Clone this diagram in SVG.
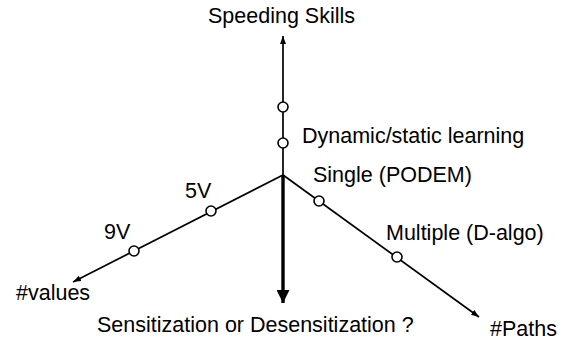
<svg xmlns="http://www.w3.org/2000/svg" width="574" height="341" viewBox="0 0 574 341">
  <style>
    .lbl { font-family: "Liberation Sans", Arial, sans-serif; font-size: 21.5px; fill: #000; }
    .axis { stroke: #000; stroke-width: 1.7; fill: none; }
    .axis-bold { stroke: #000; stroke-width: 3.4; fill: none; }
    .pt { fill: #fff; stroke: #000; stroke-width: 1.6; }
  </style>
  <defs>
    <marker id="tip" viewBox="0 0 8 6" refX="8" refY="3" markerWidth="8" markerHeight="6" markerUnits="userSpaceOnUse" orient="auto">
      <path d="M0,0 L8,3 L0,6 z" fill="#000"/>
    </marker>
    <marker id="tip-bold" viewBox="0 0 13 13" refX="13" refY="6.5" markerWidth="13" markerHeight="13" markerUnits="userSpaceOnUse" orient="auto">
      <path d="M0,0 L13,6.5 L0,13 z" fill="#000"/>
    </marker>
  </defs>

  <rect width="574" height="341" fill="#fff"/>

  <!-- axes radiating from the origin -->
  <g id="connectors">
    <line class="axis" x1="283" y1="175" x2="283" y2="36" marker-end="url(#tip)"/>
    <line class="axis" x1="283" y1="175" x2="73" y2="282" marker-end="url(#tip)"/>
    <line class="axis" x1="283" y1="175" x2="479" y2="317" marker-end="url(#tip)"/>
    <line class="axis-bold" x1="283" y1="175" x2="283" y2="303" marker-end="url(#tip-bold)"/>
  </g>

  <!-- axis titles -->
  <g id="axis-speed"><text class="lbl" x="208" y="23">Speeding Skills</text></g>
  <g id="axis-values"><text class="lbl" x="16" y="300">#values</text></g>
  <g id="axis-paths"><text class="lbl" x="490" y="336">#Paths</text></g>
  <g id="axis-sensitization"><text class="lbl" x="97" y="332">Sensitization or Desensitization ?</text></g>

  <!-- points on the speed axis -->
  <g id="pt-speed-1"><circle class="pt" cx="283" cy="107" r="5"/></g>
  <g id="pt-learning">
    <circle class="pt" cx="283" cy="143" r="5"/>
    <text class="lbl" x="302" y="143">Dynamic/static learning</text>
  </g>

  <!-- points on the values axis -->
  <g id="pt-5v">
    <circle class="pt" cx="211" cy="211" r="5"/>
    <text class="lbl" x="185" y="198">5V</text>
  </g>
  <g id="pt-9v">
    <circle class="pt" cx="134" cy="251" r="5"/>
    <text class="lbl" x="104" y="239">9V</text>
  </g>

  <!-- points on the paths axis -->
  <g id="pt-single">
    <circle class="pt" cx="319" cy="201" r="5"/>
    <text class="lbl" x="313" y="182">Single (PODEM)</text>
  </g>
  <g id="pt-multiple">
    <circle class="pt" cx="397" cy="257" r="5"/>
    <text class="lbl" x="386" y="240">Multiple (D-algo)</text>
  </g>
</svg>
